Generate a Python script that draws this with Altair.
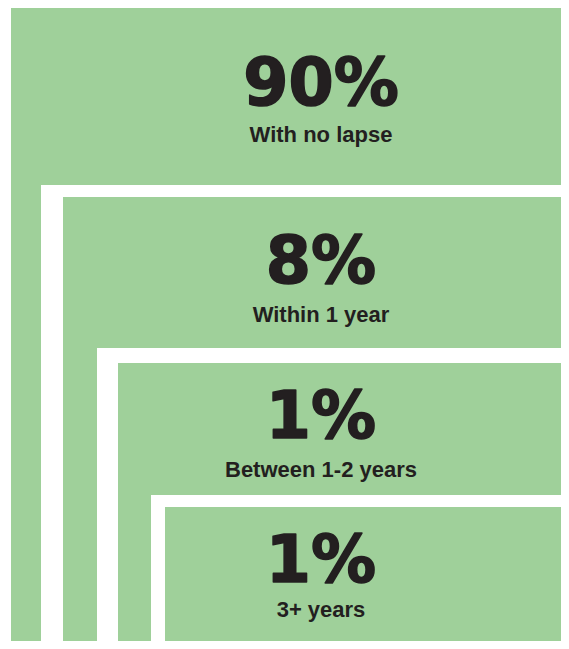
import altair as alt
import pandas as pd

# --- data ---
percents = ["90%", "8%", "1%", "1%"]
labels = ["With no lapse", "Within 1 year", "Between 1-2 years", "3+ years"]

# --- layout (chart pixel units) ---
W, H = 553, 633
box_left = [3, 55, 110, 157]
box_top = [0, 189, 355, 499]
gap_left = [33, 89, 143]
gap_top = [177, 340, 487]
num_baseline = [97, 275, 430, 574]
label_baseline = [134, 314, 469, 609]
text_x = 313

GREEN = "#9FD09A"
WHITE = "#FFFFFF"
INK = "#231F20"

rows = []
for i in range(len(percents)):
    if i > 0:
        rows.append({"x": gap_left[i - 1], "x2": W, "y": gap_top[i - 1], "y2": H, "c": WHITE, "o": 2 * i - 1})
    rows.append({"x": box_left[i], "x2": W, "y": box_top[i], "y2": H, "c": GREEN, "o": 2 * i})
boxes = pd.DataFrame(rows)

texts = pd.DataFrame({
    "pct": percents,
    "label": labels,
    "x": [text_x] * len(percents),
    "yn": num_baseline,
    "yl": label_baseline,
})

xs = alt.Scale(domain=[0, W], nice=False, zero=False)
ys = alt.Scale(domain=[0, H], nice=False, zero=False, reverse=True)

rects = alt.Chart(boxes).mark_rect().encode(
    x=alt.X("x:Q", scale=xs, axis=None),
    x2="x2",
    y=alt.Y("y:Q", scale=ys, axis=None),
    y2="y2",
    color=alt.Color("c:N", scale=None),
    order="o:Q",
)

nums = alt.Chart(texts).mark_text(
    font="DejaVu Sans", fontWeight="bold", fontSize=65, color=INK,
    stroke=INK, strokeWidth=1.6, strokeJoin="round",
    align="center", baseline="alphabetic",
).encode(
    x=alt.X("x:Q", scale=xs, axis=None),
    y=alt.Y("yn:Q", scale=ys, axis=None),
    text="pct:N",
)

labs = alt.Chart(texts).mark_text(
    font="Liberation Sans", fontWeight="bold", fontSize=22, color=INK,
    align="center", baseline="alphabetic",
).encode(
    x=alt.X("x:Q", scale=xs, axis=None),
    y=alt.Y("yl:Q", scale=ys, axis=None),
    text="label:N",
)

chart = alt.layer(rects, nums, labs).properties(
    width=W, height=H, padding=0, autosize=alt.AutoSizeParams(type="none"),
).configure_view(stroke=None)

chart.save("out.html", embed_options={"renderer": "svg", "actions": False})
